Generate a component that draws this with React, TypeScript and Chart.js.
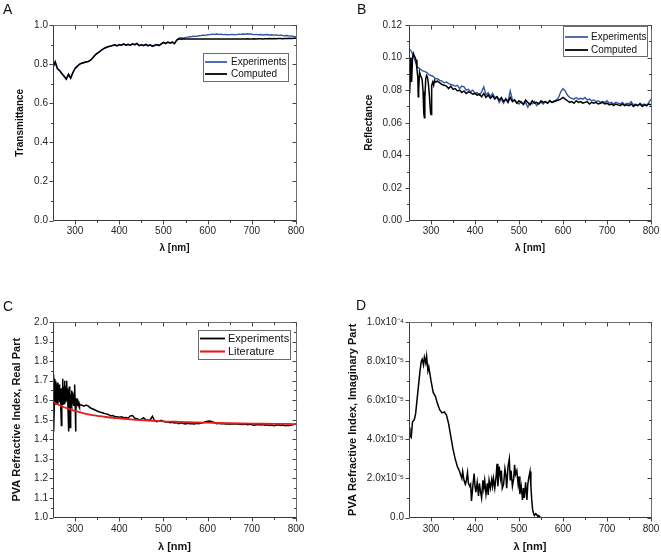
import React, { useEffect, useRef } from "react";
import { Chart, registerables } from "chart.js";
Chart.register(...registerables);

const FONT = "'Liberation Sans', Arial, Helvetica, sans-serif";
const BLUE = "#3456a6";
const RED = "#e41e1a";
const BLACK = "#000000";

// ---------- axis ticks ----------
const xMajor = [300, 400, 500, 600, 700, 800];
const xMinor = [350, 450, 550, 650, 750];
const xLabels = ["300", "400", "500", "600", "700", "800"];

const yMajorA = [0, 0.2, 0.4, 0.6, 0.8, 1.0];
const yMinorA = [0.1, 0.3, 0.5, 0.7, 0.9];
const yLabelsA = ["0.0", "0.2", "0.4", "0.6", "0.8", "1.0"];

const yMajorB = [0, 0.02, 0.04, 0.06, 0.08, 0.1, 0.12];
const yMinorB = [0.01, 0.03, 0.05, 0.07, 0.09, 0.11];
const yLabelsB = ["0.00", "0.02", "0.04", "0.06", "0.08", "0.10", "0.12"];

const yMajorC = [1.0, 1.1, 1.2, 1.3, 1.4, 1.5, 1.6, 1.7, 1.8, 1.9, 2.0];
const yMinorC = [1.05, 1.15, 1.25, 1.35, 1.45, 1.55, 1.65, 1.75, 1.85, 1.95];
const yLabelsC = ["1.0", "1.1", "1.2", "1.3", "1.4", "1.5", "1.6", "1.7", "1.8", "1.9", "2.0"];

// panel D values are in units of 1e-5
const yMajorD = [0, 2, 4, 6, 8, 10];
const yMinorD = [1, 3, 5, 7, 9];
const yLabelsD = ["0.0", "2.0x10\u207B\u2075", "4.0x10\u207B\u2075", "6.0x10\u207B\u2075", "8.0x10\u207B\u2075", "1.0x10\u207B\u2074"];

// ---------- data ----------
const lam5 = [
  250, 255, 260, 265, 270, 275, 280, 285, 290, 295,
  300, 305, 310, 315, 320, 325, 330, 335, 340, 345,
  350, 355, 360, 365, 370, 375, 380, 385, 390, 395,
  400, 405, 410, 415, 420, 425, 430, 435, 440, 445,
  450, 455, 460, 465, 470, 475, 480, 485, 490, 495,
  500, 505, 510, 515, 520, 525, 530, 535, 540, 545,
  550, 555, 560, 565, 570, 575, 580, 585, 590, 595,
  600, 605, 610, 615, 620, 625, 630, 635, 640, 645,
  650, 655, 660, 665, 670, 675, 680, 685, 690, 695,
  700, 705, 710, 715, 720, 725, 730, 735, 740, 745,
  750, 755, 760, 765, 770, 775, 780, 785, 790, 795,
  800,
];

// A: transmittance
const transComputed = [
  0.785, 0.812, 0.778, 0.766, 0.752, 0.737, 0.722, 0.748, 0.728, 0.757,
  0.779, 0.788, 0.800, 0.804, 0.808, 0.811, 0.813, 0.820, 0.832, 0.845,
  0.855, 0.863, 0.872, 0.879, 0.885, 0.889, 0.892, 0.895, 0.899, 0.893,
  0.900, 0.897, 0.903, 0.897, 0.901, 0.897, 0.904, 0.899, 0.906, 0.894,
  0.899, 0.895, 0.901, 0.894, 0.899, 0.892, 0.897, 0.900, 0.895, 0.903,
  0.911, 0.905, 0.913, 0.907, 0.912, 0.904, 0.921, 0.929, 0.927, 0.930,
  0.928, 0.929, 0.928, 0.929, 0.928, 0.929, 0.928, 0.929, 0.928, 0.928,
  0.929, 0.928, 0.928, 0.929, 0.928, 0.928, 0.929, 0.928, 0.929, 0.928,
  0.929, 0.929, 0.928, 0.929, 0.929, 0.928, 0.929, 0.929, 0.930, 0.929,
  0.929, 0.930, 0.929, 0.930, 0.930, 0.929, 0.930, 0.930, 0.931, 0.930,
  0.931, 0.930, 0.931, 0.931, 0.930, 0.931, 0.931, 0.932, 0.931, 0.932,
  0.932,
];
const transExperiments = [
  0.780, 0.808, 0.775, 0.768, 0.750, 0.740, 0.725, 0.745, 0.731, 0.755,
  0.776, 0.790, 0.798, 0.805, 0.807, 0.812, 0.814, 0.821, 0.830, 0.846,
  0.856, 0.862, 0.873, 0.880, 0.884, 0.890, 0.891, 0.896, 0.898, 0.894,
  0.899, 0.898, 0.902, 0.898, 0.900, 0.898, 0.903, 0.898, 0.905, 0.895,
  0.898, 0.894, 0.900, 0.893, 0.898, 0.890, 0.893, 0.899, 0.896, 0.902,
  0.910, 0.906, 0.912, 0.909, 0.913, 0.906, 0.925, 0.933, 0.935, 0.932,
  0.937, 0.938, 0.940, 0.941, 0.943, 0.942, 0.945, 0.946, 0.948, 0.947,
  0.950, 0.951, 0.953, 0.952, 0.954, 0.952, 0.953, 0.951, 0.952, 0.950,
  0.951, 0.952, 0.950, 0.951, 0.953, 0.952, 0.954, 0.953, 0.955, 0.954,
  0.953, 0.951, 0.952, 0.950, 0.951, 0.949, 0.950, 0.951, 0.949, 0.950,
  0.948, 0.949, 0.947, 0.948, 0.946, 0.945, 0.946, 0.943, 0.944, 0.941,
  0.940,
];

// B: reflectance
const reflExperiments = [
  0.1055, 0.104, 0.101, 0.097, 0.094, 0.093, 0.092, 0.0915, 0.091, 0.0895,
  0.089, 0.0885, 0.087, 0.087, 0.086, 0.0855, 0.0845, 0.085, 0.084, 0.0835,
  0.083, 0.0825, 0.083, 0.081, 0.0825, 0.082, 0.080, 0.0805, 0.079, 0.080,
  0.078, 0.0785, 0.077, 0.079, 0.082, 0.077, 0.0785, 0.076, 0.078, 0.0755,
  0.076, 0.0725, 0.0745, 0.072, 0.075, 0.073, 0.0795, 0.074, 0.0735, 0.0725,
  0.0715, 0.073, 0.071, 0.0725, 0.0695, 0.072, 0.0715, 0.073, 0.0705, 0.072,
  0.0725, 0.0715, 0.073, 0.072, 0.0735, 0.0725, 0.0735, 0.074, 0.0755, 0.079,
  0.081, 0.0795, 0.077, 0.0755, 0.075, 0.0745, 0.0755, 0.0745, 0.075, 0.0745,
  0.0755, 0.074, 0.0745, 0.0735, 0.074, 0.073, 0.0735, 0.0725, 0.073, 0.0725,
  0.0735, 0.072, 0.0725, 0.0715, 0.0725, 0.072, 0.0715, 0.0725, 0.071, 0.072,
  0.0715, 0.073, 0.071, 0.0715, 0.0705, 0.072, 0.071, 0.0715, 0.0705, 0.0725,
  0.0745,
];
const reflCompHeadLam = [
  250, 251, 252, 253, 254, 256, 258, 260, 262, 264, 266, 268, 270, 271, 272, 274, 276, 278, 280,
  282, 283, 284, 285, 286, 288, 290, 292, 294, 296, 298, 299, 300, 301, 302, 304, 306, 308, 310,
];
const reflCompHead = [
  0.095, 0.099, 0.078, 0.090, 0.100, 0.085, 0.100, 0.1025, 0.101, 0.100, 0.0985, 0.093, 0.088, 0.076, 0.080, 0.091, 0.089, 0.088, 0.086,
  0.079, 0.070, 0.066, 0.063, 0.075, 0.087, 0.089, 0.088, 0.084, 0.078, 0.070, 0.066, 0.065, 0.072, 0.083, 0.085, 0.083, 0.086, 0.085,
];
// from 315 nm on the 5 nm grid
const reflCompTail = [
  0.0855, 0.0845, 0.0835, 0.083, 0.0825, 0.081, 0.0825,
  0.0805, 0.081, 0.0795, 0.080, 0.0785, 0.0795, 0.078, 0.079, 0.0785, 0.0775,
  0.078, 0.077, 0.0775, 0.076, 0.078, 0.0755, 0.077, 0.075, 0.0765, 0.0745,
  0.076, 0.074, 0.0755, 0.073, 0.0745, 0.0725, 0.0755, 0.073, 0.074, 0.072,
  0.0735, 0.0725, 0.0715, 0.074, 0.0725, 0.071, 0.0735, 0.072, 0.0725, 0.0715,
  0.0735, 0.0725, 0.073, 0.072, 0.0735, 0.0725, 0.073, 0.0735, 0.074, 0.0745,
  0.0755, 0.0745, 0.0735, 0.0725, 0.073, 0.072, 0.0735, 0.0725, 0.073, 0.072,
  0.0725, 0.073, 0.0715, 0.0725, 0.072, 0.0725, 0.0715, 0.072, 0.0725, 0.0715,
  0.072, 0.071, 0.0715, 0.0705, 0.0715, 0.071, 0.0705, 0.0715, 0.0705, 0.071,
  0.0705, 0.0715, 0.070, 0.071, 0.0705, 0.0715, 0.070, 0.071, 0.0705, 0.0715,
  0.071,
];

// C: real part of refractive index
const realExpHeadLam = [
  250, 251, 252, 253, 254, 255, 256, 257, 258, 259,
  260, 261, 262, 263, 264, 265, 266, 267, 268, 269,
  270, 271, 272, 273, 274, 275, 276, 277, 278, 279,
  280, 281, 282, 283, 284, 285, 286, 287, 288, 289,
  290, 291, 292, 293, 294, 295, 296, 297, 298, 299,
  300, 301, 302, 303, 304, 305, 306, 307, 308, 309,
  310,
];
const realExpHead = [
  1.62, 1.73, 1.44, 1.58, 1.71, 1.60, 1.70, 1.58, 1.68, 1.60,
  1.69, 1.58, 1.67, 1.60, 1.68, 1.59, 1.66, 1.60, 1.57, 1.47,
  1.62, 1.66, 1.71, 1.58, 1.67, 1.60, 1.70, 1.58, 1.66, 1.59,
  1.67, 1.70, 1.60, 1.66, 1.55, 1.44, 1.60, 1.67, 1.62, 1.46,
  1.63, 1.58, 1.65, 1.57, 1.64, 1.58, 1.63, 1.57, 1.62, 1.68,
  1.60, 1.44, 1.53, 1.61, 1.58, 1.60, 1.57, 1.59, 1.58, 1.585,
  1.575,
];
const realExpTail = [
  1.575, 1.57, 1.575, 1.57, 1.56, 1.555, 1.55,
  1.545, 1.54, 1.537, 1.533, 1.53, 1.527, 1.52, 1.522, 1.517, 1.515,
  1.513, 1.515, 1.51, 1.512, 1.508, 1.52, 1.522, 1.508, 1.505, 1.50,
  1.503, 1.51, 1.50, 1.497, 1.50, 1.518, 1.495, 1.49, 1.493, 1.497,
  1.492, 1.488, 1.49, 1.485, 1.487, 1.483, 1.485, 1.48, 1.484, 1.481,
  1.478, 1.482, 1.479, 1.48, 1.478, 1.482, 1.48, 1.483, 1.485, 1.49,
  1.492, 1.493, 1.49, 1.486, 1.48, 1.482, 1.479, 1.481, 1.478, 1.48,
  1.477, 1.479, 1.478, 1.48, 1.477, 1.478, 1.476, 1.478, 1.475, 1.477,
  1.476, 1.472, 1.474, 1.476, 1.473, 1.475, 1.472, 1.474, 1.471, 1.473,
  1.47, 1.472, 1.474, 1.471, 1.473, 1.47, 1.472, 1.471, 1.473, 1.475,
  1.478,
];
const realLitLam = [250, 260, 270, 280, 290, 300, 310, 320, 330, 340, 350, 360, 370, 380, 390, 400, 425, 450, 475, 500, 525, 550, 575, 600, 650, 700, 750, 800];
const realLit = [1.590, 1.579, 1.569, 1.560, 1.552, 1.545, 1.539, 1.533, 1.528, 1.524, 1.520, 1.517, 1.514, 1.511, 1.509, 1.507, 1.502, 1.498, 1.495, 1.492, 1.490, 1.488, 1.486, 1.485, 1.482, 1.480, 1.479, 1.478];

// D: imaginary part (units of 1e-5)
const imagLam = [
  250, 252, 255, 258, 262, 265, 270, 275, 278, 280, 283, 285, 288, 290, 293, 295, 300, 305, 310, 315,
  320, 325, 330, 335, 340, 345, 350, 355, 360, 365, 370, 372, 375, 378, 380, 383, 385, 388, 390, 392,
  395, 398, 400, 402, 405, 408, 410, 412, 415, 418, 420, 422, 425, 428, 430, 432, 435, 438, 440, 442,
  445, 448, 450, 452, 455, 458, 460, 462, 465, 468, 470, 472, 475, 478, 480, 482, 485, 488, 490, 492,
  495, 498, 500, 502, 505, 508, 510, 512, 515, 518, 520, 522, 525, 527, 529, 531, 533, 535, 538, 540,
  543, 545, 548, 550,
];
const imagVal = [
  4.6, 4.2, 4.1, 4.9, 5.0, 5.3, 6.4, 7.5, 8.0, 8.1, 7.8, 8.2, 7.9, 8.25, 7.5, 7.7, 7.0, 6.4, 6.2, 5.8,
  5.5, 5.35, 5.4, 5.25, 4.8, 4.15, 3.5, 3.0, 2.6, 2.35, 2.0, 2.35, 1.9, 1.7, 1.85, 2.3, 1.75, 1.6, 1.7, 0.85,
  1.6, 2.25, 1.6, 1.3, 1.8, 1.1, 1.75, 1.4, 1.0, 1.9, 1.5, 1.9, 1.2, 1.75, 1.15, 1.9, 1.5, 1.95, 1.6, 2.0,
  1.5, 2.1, 2.75, 1.6, 2.6, 2.0, 2.4, 1.5, 1.7, 2.5, 2.2, 1.5, 2.6, 3.0, 1.9, 2.4, 1.6, 2.0, 2.7, 2.2,
  2.4, 1.7, 2.1, 1.2, 1.6, 0.9, 1.5, 1.0, 1.8, 0.9, 1.7, 2.0, 2.35, 1.6, 0.9, 0.4, 0.2, 0.1, 0.2, 0.15,
  0.05, 0.1, 0.02, 0.0,
];

// ---------- helpers ----------
const pts = (xs: number[], ys: number[]) => xs.map((x, i) => ({ x, y: ys[i] }));

type Legend = { x: number; y: number; w: number; h: number; rows: number[]; lx0: number; lx1: number; tx: number; font: number; order: number[] };
type Cfg = {
  key: string; px: number; py: number; w: number; h: number;
  left: number; top: number; right: number; bottom: number;
  yMin: number; yMax: number; yMajor: number[]; yMinor: number[]; yLabels: string[];
  yTitle: string; xTitle: string; titleSize: number; yTitlePad: number; xTitlePad: number;
  yTickPad: number; xTickPad: number;
  letter: string; letterX: number; letterY: number;
  datasets: any[]; legend?: Legend;
};

const decorPlugin = {
  id: "decor",
  afterDatasetsDraw(chart: any, _args: any, o: any) {
    const { ctx, chartArea } = chart;
    const xs = chart.scales.x;
    const ys = chart.scales.y;
    const L = Math.floor(chartArea.left) + 0.5;
    const R = Math.floor(chartArea.right) + 0.5;
    const T = Math.floor(chartArea.top) + 0.5;
    const B = Math.floor(chartArea.bottom) + 0.5;
    ctx.save();
    ctx.lineWidth = 1;
    ctx.strokeStyle = "#6e6e6e";
    ctx.beginPath();
    ctx.moveTo(L, T); ctx.lineTo(R, T); ctx.lineTo(R, B);
    ctx.stroke();
    ctx.strokeStyle = "#3a3a3a";
    ctx.beginPath();
    ctx.moveTo(L, T); ctx.lineTo(L, B); ctx.lineTo(R, B);
    ctx.stroke();
    const xt = (vals: number[], len: number) => {
      vals.forEach((v) => {
        const p = Math.round(xs.getPixelForValue(v)) + 0.5;
        ctx.beginPath();
        ctx.moveTo(p, B); ctx.lineTo(p, B + len);
        ctx.moveTo(p, T); ctx.lineTo(p, T + len);
        ctx.stroke();
      });
    };
    const yt = (vals: number[], len: number) => {
      vals.forEach((v) => {
        const p = Math.round(ys.getPixelForValue(v)) + 0.5;
        ctx.beginPath();
        ctx.moveTo(L, p); ctx.lineTo(L - len, p);
        ctx.moveTo(R, p); ctx.lineTo(R - len, p);
        ctx.stroke();
      });
    };
    ctx.strokeStyle = "#444";
    xt(o.xMajor, 4); xt(o.xMinor, 2.5);
    yt(o.yMajor, 4); yt(o.yMinor, 2.5);
    ctx.restore();
  },
  afterDraw(chart: any, _args: any, o: any) {
    const { ctx } = chart;
    ctx.save();
    if (o.legend) {
      const lg: Legend = o.legend;
      ctx.fillStyle = "#ffffff";
      ctx.fillRect(lg.x, lg.y, lg.w, lg.h);
      ctx.strokeStyle = "#6a6a6a";
      ctx.lineWidth = 1;
      ctx.strokeRect(lg.x + 0.5, lg.y + 0.5, lg.w, lg.h);
      lg.order.forEach((di, i) => {
        const ds = chart.data.datasets[di];
        const y = lg.rows[i];
        ctx.strokeStyle = ds.borderColor;
        ctx.lineWidth = ds.borderWidth + 0.3;
        ctx.beginPath();
        ctx.moveTo(lg.lx0, y); ctx.lineTo(lg.lx1, y);
        ctx.stroke();
        ctx.fillStyle = "#111";
        ctx.font = `${lg.font}px ${FONT}`;
        ctx.textBaseline = "middle";
        ctx.textAlign = "left";
        ctx.fillText(ds.label, lg.tx, y + 0.5);
      });
    }
    ctx.fillStyle = "#111";
    ctx.font = `14px ${FONT}`;
    ctx.textBaseline = "alphabetic";
    ctx.textAlign = "left";
    ctx.fillText(o.letter, o.letterX, o.letterY);
    ctx.restore();
  },
};

function Panel({ cfg }: { cfg: Cfg }) {
  const ref = useRef<HTMLCanvasElement>(null);
  useEffect(() => {
    const c = cfg;
    const chart = new Chart(ref.current as HTMLCanvasElement, {
      type: "line",
      data: { datasets: c.datasets },
      plugins: [decorPlugin as any],
      options: {
        animation: false,
        responsive: false,
        devicePixelRatio: 1,
        events: [],
        layout: { padding: { left: 0, top: c.top, right: c.w - c.right, bottom: 0 } },
        elements: { point: { radius: 0 }, line: { tension: 0 } },
        plugins: {
          legend: { display: false },
          tooltip: { enabled: false },
          decor: {
            xMajor, xMinor, yMajor: c.yMajor, yMinor: c.yMinor,
            legend: c.legend, letter: c.letter, letterX: c.letterX, letterY: c.letterY,
          },
        } as any,
        scales: {
          x: {
            type: "linear",
            min: 250,
            max: 800,
            grid: { display: false, drawTicks: false },
            border: { display: false },
            afterBuildTicks: (s: any) => { s.ticks = xMajor.map((v) => ({ value: v })); },
            afterFit: (s: any) => { s.height = c.h - c.bottom; s.paddingLeft = 0; s.paddingRight = 0; },
            ticks: {
              autoSkip: false, maxRotation: 0, minRotation: 0, padding: c.xTickPad,
              color: "#262626", font: { family: FONT, size: 10 },
              callback: (_v: any, i: number) => xLabels[i],
            },
            title: {
              display: true, text: c.xTitle, color: "#111",
              font: { family: FONT, size: c.titleSize, weight: "bold" },
              padding: { top: 0, bottom: c.xTitlePad },
            },
          },
          y: {
            type: "linear",
            min: c.yMin,
            max: c.yMax,
            grid: { display: false, drawTicks: false },
            border: { display: false },
            afterBuildTicks: (s: any) => { s.ticks = c.yMajor.map((v) => ({ value: v })); },
            afterFit: (s: any) => { s.width = c.left; s.paddingTop = 0; s.paddingBottom = 0; },
            ticks: {
              autoSkip: false, padding: c.yTickPad,
              color: "#262626", font: { family: FONT, size: 10 },
              callback: (_v: any, i: number) => c.yLabels[i],
            },
            title: {
              display: true, text: c.yTitle, color: "#111",
              font: { family: FONT, size: c.titleSize, weight: "bold" },
              padding: { top: c.yTitlePad, bottom: 0 },
            },
          },
        },
      } as any,
    });
    return () => chart.destroy();
  }, []);
  return (
    <canvas
      ref={ref}
      width={cfg.w}
      height={cfg.h}
      style={{ position: "absolute", left: cfg.px, top: cfg.py, width: cfg.w, height: cfg.h }}
    />
  );
}

const line = (label: string, data: any[], color: string, width: number, order: number) => ({
  label, data, borderColor: color, borderWidth: width, pointRadius: 0, fill: false, order, parsing: true,
});

const panels: Cfg[] = [
  {
    key: "A", px: 0, py: 0, w: 330, h: 280, left: 53, top: 25, right: 296, bottom: 220.5,
    yMin: 0, yMax: 1, yMajor: yMajorA, yMinor: yMinorA, yLabels: yLabelsA,
    yTitle: "Transmittance", xTitle: "\u03BB [nm]", titleSize: 10, yTitlePad: 14, xTitlePad: 26,
    yTickPad: 5, xTickPad: 5,
    letter: "A", letterX: 3, letterY: 14,
    datasets: [
      line("Experiments", pts(lam5, transExperiments), BLUE, 1.4, 2),
      line("Computed", pts(lam5, transComputed), BLACK, 1.5, 1),
    ],
    legend: { x: 203, y: 53, w: 85, h: 28, rows: [62, 74], lx0: 205, lx1: 227, tx: 231, font: 10, order: [0, 1] },
  },
  {
    key: "B", px: 330, py: 0, w: 331, h: 280, left: 79, top: 25, right: 321, bottom: 220.5,
    yMin: 0, yMax: 0.12, yMajor: yMajorB, yMinor: yMinorB, yLabels: yLabelsB,
    yTitle: "Reflectance", xTitle: "\u03BB [nm]", titleSize: 10, yTitlePad: 33, xTitlePad: 26,
    yTickPad: 7, xTickPad: 5,
    letter: "B", letterX: 27, letterY: 14,
    datasets: [
      line("Experiments", pts(lam5, reflExperiments), BLUE, 1.4, 2),
      line("Computed", pts([...reflCompHeadLam, ...lam5.slice(13)], [...reflCompHead, ...reflCompTail]), BLACK, 1.5, 1),
    ],
    legend: { x: 233, y: 26, w: 84, h: 30, rows: [37, 50], lx0: 235, lx1: 258, tx: 261, font: 10, order: [0, 1] },
  },
  {
    key: "C", px: 0, py: 280, w: 330, h: 275, left: 53, top: 42, right: 296, bottom: 237.5,
    yMin: 1, yMax: 2, yMajor: yMajorC, yMinor: yMinorC, yLabels: yLabelsC,
    yTitle: "PVA Refractive Index, Real Part", xTitle: "\u03BB [nm]", titleSize: 11, yTitlePad: 10.4, xTitlePad: 1.4,
    yTickPad: 5, xTickPad: 5.6,
    letter: "C", letterX: 3, letterY: 31,
    datasets: [
      line("Experiments", pts([...realExpHeadLam, ...lam5.slice(13)], [...realExpHead, ...realExpTail]), BLACK, 1.5, 2),
      { ...line("Literature", pts(realLitLam, realLit), RED, 1.8, 1), tension: 0.4 },
    ],
    legend: { x: 198, y: 50, w: 92, h: 29, rows: [58.5, 71.5], lx0: 200, lx1: 225, tx: 228, font: 11, order: [0, 1] },
  },
  {
    key: "D", px: 330, py: 280, w: 331, h: 275, left: 79, top: 42, right: 321, bottom: 237.5,
    yMin: 0, yMax: 10, yMajor: yMajorD, yMinor: yMinorD, yLabels: yLabelsD,
    yTitle: "PVA Refractive Index, Imaginary Part", xTitle: "\u03BB [nm]", titleSize: 11, yTitlePad: 16.4, xTitlePad: 1.7,
    yTickPad: 5, xTickPad: 5.6,
    letter: "D", letterX: 26, letterY: 30,
    datasets: [line("Imaginary", pts(imagLam, imagVal), BLACK, 1.5, 1)],
  },
];

export default function App() {
  return (
    <div style={{ position: "absolute", left: 0, top: 0, width: 661, height: 555, background: "#fff" }}>
      {panels.map((p) => (
        <Panel key={p.key} cfg={p} />
      ))}
    </div>
  );
}
